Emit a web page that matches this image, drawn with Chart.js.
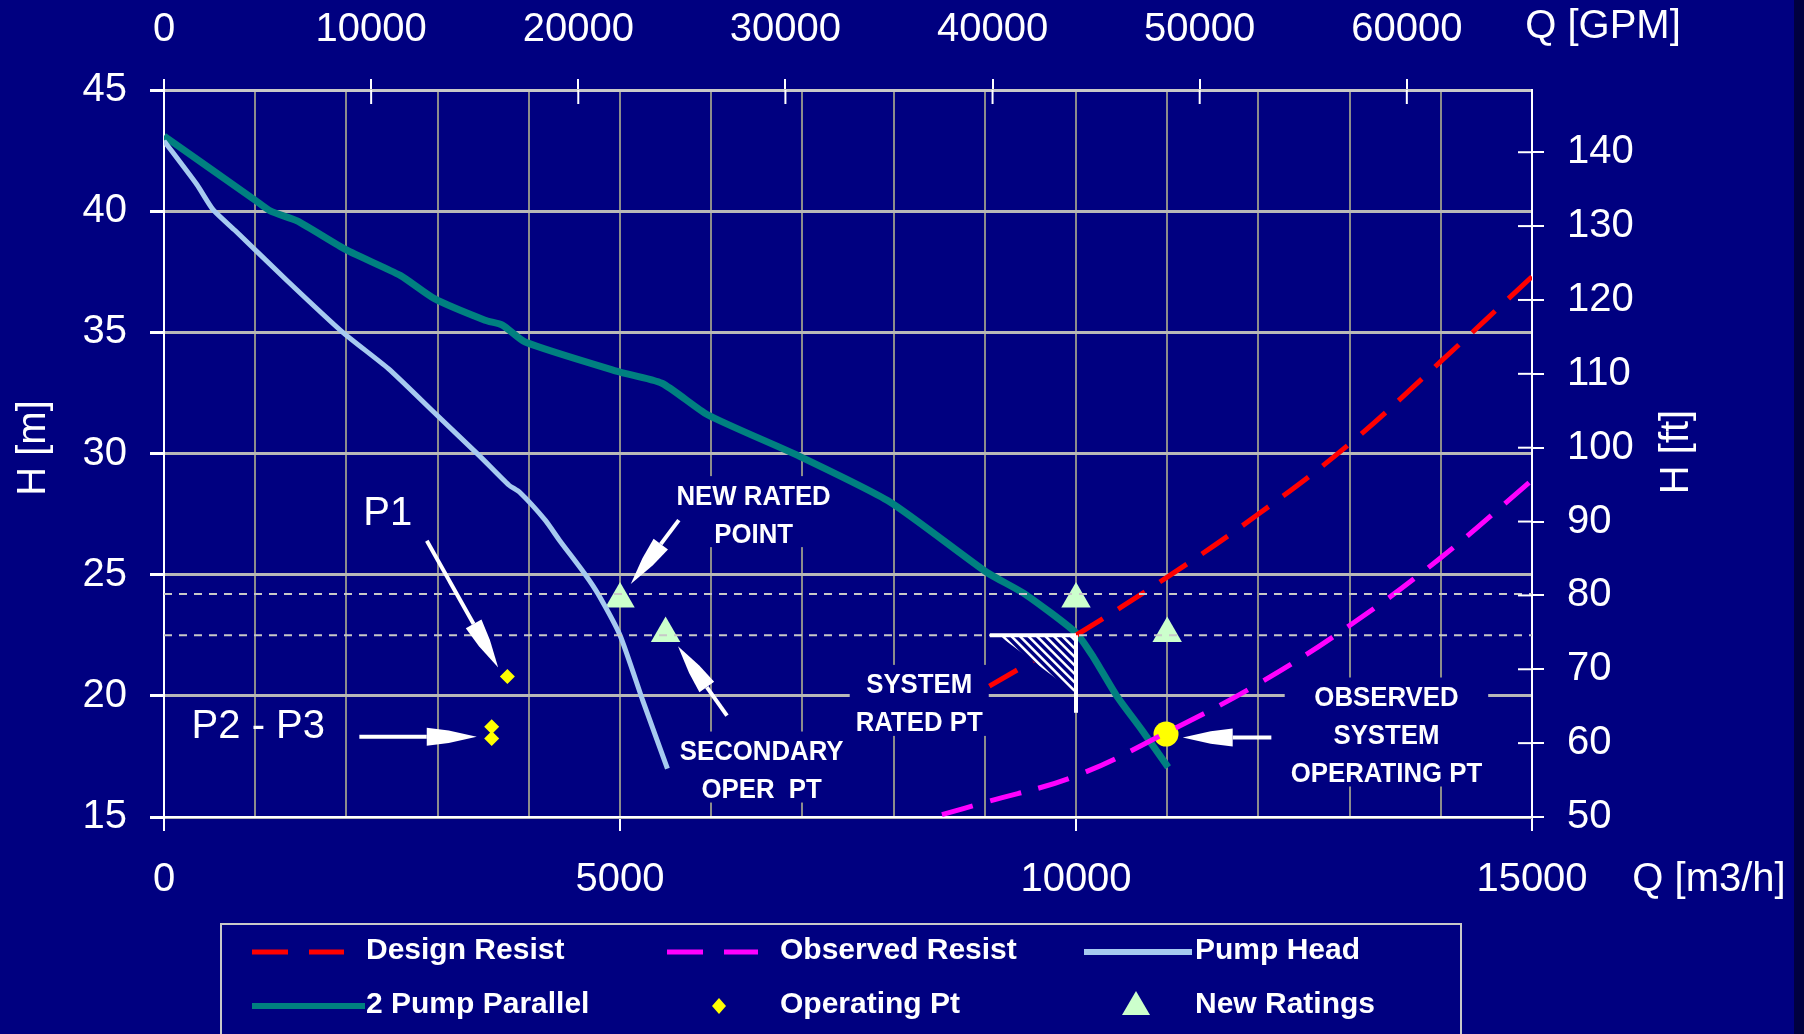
<!DOCTYPE html>
<html>
<head>
<meta charset="utf-8">
<script src="https://cdn.jsdelivr.net/npm/chart.js@4.4.1/dist/chart.umd.min.js"></script>
<style>
  html, body { margin: 0; padding: 0; background: #000040; }
  canvas { display: block; }
</style>
</head>
<body>
<canvas id="pump" width="1804" height="1034"></canvas>
<script>
// flow Q in m3/h, head H in m
const pumpHeadQ = [0, 360, 540, 780, 1345, 1960, 2460, 2960, 3460, 3780, 3900, 4180, 4340, 4620, 4760, 5000, 5250, 5520];
const pumpHeadH = [42.9, 41.1, 40.05, 39.2, 37.15, 35.0, 33.5, 31.7, 29.9, 28.7, 28.4, 27.25, 26.4, 25.0, 24.2, 22.5, 19.8, 17.0];

const parallelQ = [0, 1000, 1170, 1460, 2000, 2590, 2960, 3520, 3710, 3960, 4960, 5460, 5960, 6960, 7960, 9020, 9440, 10000, 10190, 10446, 10720, 11010];
const parallelH = [43.1, 40.45, 40.0, 39.6, 38.4, 37.35, 36.4, 35.5, 35.3, 34.6, 33.4, 32.9, 31.6, 29.9, 28.0, 25.1, 24.2, 22.6, 21.6, 20.0, 18.6, 17.05];

const designQ = [9050, 10000, 11000, 12000, 13000, 14000, 15000];
const designH = [20.4, 22.5, 24.9, 27.5, 30.4, 33.8, 37.3];

const observedQ = [8530, 9000, 10000, 11000, 12000, 13000, 14000, 15000];
const observedH = [15.1, 15.6, 16.7, 18.5, 20.5, 22.9, 25.7, 28.9];

const operQ = [3765, 3593, 3593, 10987];
const operH = [20.8, 18.72, 18.24, 18.42];

const ratingQ = [5000, 5500, 10000, 11000];
const ratingH = [24.0, 22.57, 24.0, 22.57];

const dottedH = [24.2, 22.5];

// tick labels of the secondary axes
const gpmTicks = [0, 10000, 20000, 30000, 40000, 50000, 60000];
const ftTicks = [50, 60, 70, 80, 90, 100, 110, 120, 130, 140];

// unit conversions for the secondary axes
const GPM_PER_M3H = 4.40287;
const FT_PER_M = 3.28084;

// annotation texts (positions in Q / H units)
const noteText = [['NEW RATED', 'POINT'], ['SECONDARY', 'OPER  PT'], ['SYSTEM', 'RATED PT'], ['OBSERVED', 'SYSTEM', 'OPERATING PT']];
const noteQ = [6465, 6553, 8281, 13404];
const noteH = [28.2, 17.66, 20.41, 19.89];

const arrowFrom = [[2882, 26.4], [2142, 18.31], [5645, 27.25], [6173, 19.18], [12142, 18.28]];
const arrowTo = [[3664, 21.17], [3429, 18.31], [5118, 24.61], [5636, 22.05], [11170, 18.28]];

const pts = (qs, hs) => qs.map((q, i) => ({ x: q, y: hs[i] }));

const FONT = '"Liberation Sans", Arial, sans-serif';
Chart.defaults.font.family = FONT;
Chart.defaults.color = '#ffffff';

function drawText(c, text, x, y, font, sx, align) {
  c.save();
  c.translate(x, y);
  c.scale(sx, 1);
  c.font = font;
  c.fillStyle = '#ffffff';
  c.textAlign = align || 'center';
  c.textBaseline = 'middle';
  c.fillText(text, 0, 0);
  c.restore();
}

function arrow(c, x1, y1, x2, y2) {
  const a = Math.atan2(y2 - y1, x2 - x1);
  const L = 50, w = 9;
  const bx = x2 - Math.cos(a) * L, by = y2 - Math.sin(a) * L;
  c.save();
  c.strokeStyle = '#ffffff';
  c.fillStyle = '#ffffff';
  c.lineWidth = 4;
  c.beginPath(); c.moveTo(x1, y1); c.lineTo(bx, by); c.stroke();
  c.beginPath();
  c.moveTo(bx - Math.sin(a) * w, by + Math.cos(a) * w);
  c.lineTo(bx + Math.cos(a) * 22 - Math.sin(a) * w * 0.7, by + Math.sin(a) * 22 + Math.cos(a) * w * 0.7);
  c.lineTo(x2, y2);
  c.lineTo(bx + Math.cos(a) * 22 + Math.sin(a) * w * 0.7, by + Math.sin(a) * 22 - Math.cos(a) * w * 0.7);
  c.lineTo(bx + Math.sin(a) * w, by - Math.cos(a) * w);
  c.closePath(); c.fill();
  c.restore();
}

const NOTE_FONT = 'bold 27px ' + FONT;
const NOTE_SX = 0.955;
const NOTE_GAP = 38;

const overlay = {
  id: 'overlay',
  beforeDraw(chart) {
    const c = chart.ctx;
    c.save();
    c.fillStyle = '#000080';
    c.fillRect(0, 0, 1794, chart.height);
    c.fillStyle = '#000040';
    c.fillRect(1794, 0, chart.width - 1794, chart.height);
    c.restore();
  },
  beforeDatasetsDraw(chart) {
    // label backgrounds hide the grid behind the notes
    const c = chart.ctx, sx = chart.scales.x, sy = chart.scales.y;
    c.save();
    c.font = NOTE_FONT;
    noteText.forEach((lines, i) => {
      const cx = sx.getPixelForValue(noteQ[i]);
      const cy = sy.getPixelForValue(noteH[i]);
      const w = Math.max(...lines.map(t => c.measureText(t).width)) * NOTE_SX + 12;
      const top = cy - 21, bottom = cy + (lines.length - 1) * NOTE_GAP + 12;
      c.fillStyle = '#000080';
      c.fillRect(cx - w / 2, top, w, bottom - top);
    });
    c.restore();
  },
  afterDatasetsDraw(chart) {
    const c = chart.ctx, sx = chart.scales.x, sy = chart.scales.y;
    const px = q => sx.getPixelForValue(q), py = h => sy.getPixelForValue(h);

    // hatched triangle at the system rated point
    c.save();
    const hx0 = px(9150), hx1 = px(10000), hy0 = py(dottedH[1]), hy1 = py(20.1);
    c.beginPath(); c.moveTo(hx0, hy0); c.lineTo(hx1, hy0); c.lineTo(hx1, hy1); c.closePath();
    c.fillStyle = '#000080';
    c.fill();
    c.clip();
    c.strokeStyle = '#ffffff'; c.lineWidth = 2.5;
    for (let k = -90; k < 120; k += 8.5) {
      c.beginPath(); c.moveTo(hx0 + k, hy0); c.lineTo(hx0 + k + 80, hy0 + 80); c.stroke();
    }
    c.restore();
    c.save();
    c.strokeStyle = '#ffffff'; c.lineWidth = 4;
    c.beginPath(); c.moveTo(px(9055), hy0); c.lineTo(hx1, hy0); c.stroke();
    c.beginPath(); c.moveTo(hx1, hy0); c.lineTo(hx1, py(19.3)); c.stroke();
    c.restore();

    // notes
    noteText.forEach((lines, i) => {
      lines.forEach((t, j) => drawText(c, t, px(noteQ[i]), py(noteH[i]) + j * NOTE_GAP, NOTE_FONT, NOTE_SX));
    });
    drawText(c, 'P1', px(2453), py(27.49), '40px ' + FONT, 1);
    drawText(c, 'P2 - P3', px(1034), py(18.72), '40px ' + FONT, 1);

    arrowFrom.forEach((f, i) => arrow(c, px(f[0]), py(f[1]), px(arrowTo[i][0]), py(arrowTo[i][1])));

    // inner halves of the crossing ticks on top and right axes
    const tx = chart.scales.x2, ty = chart.scales.y2, area = chart.chartArea;
    c.save();
    c.strokeStyle = '#ffffff'; c.lineWidth = 2;
    tx.ticks.forEach(t => {
      const x = tx.getPixelForValue(t.value);
      c.beginPath(); c.moveTo(x, area.top); c.lineTo(x, area.top + 14); c.stroke();
    });
    ty.ticks.forEach(t => {
      const y = ty.getPixelForValue(t.value);
      c.beginPath(); c.moveTo(area.right, y); c.lineTo(area.right - 14, y); c.stroke();
    });
    c.restore();

    // axis titles
    const titleFont = '40px ' + FONT;
    c.save(); c.translate(34, 448); c.rotate(-Math.PI / 2);
    drawText(c, 'H [m]', 0, 0, titleFont, 1); c.restore();
    c.save(); c.translate(1677, 452); c.rotate(-Math.PI / 2);
    drawText(c, 'H [ft]', 0, 0, titleFont, 1); c.restore();
    drawText(c, 'Q [m3/h]', 1709, 880, titleFont, 1);
    drawText(c, 'Q [GPM]', 1603, 27, titleFont, 1);

    // legend box
    c.save();
    c.strokeStyle = '#c8c8c8'; c.lineWidth = 2;
    c.strokeRect(221, 924, 1240, 140);
    c.lineCap = 'butt';
    const seg = (x0, x1, y, col, lw, dash) => {
      c.strokeStyle = col; c.lineWidth = lw; c.setLineDash(dash || []);
      c.beginPath(); c.moveTo(x0, y); c.lineTo(x1, y); c.stroke();
      c.setLineDash([]);
    };
    seg(252, 344, 952, '#ff0000', 5, [36, 21]);
    seg(667, 758, 952, '#ff00ff', 5, [36, 21]);
    seg(1084, 1192, 952, '#a6caf0', 6);
    seg(252, 365, 1006, '#008080', 6);
    c.fillStyle = '#ffff00';
    c.beginPath(); c.moveTo(719, 998); c.lineTo(726, 1006); c.lineTo(719, 1014); c.lineTo(712, 1006); c.closePath(); c.fill();
    c.fillStyle = '#ccffcc';
    c.beginPath(); c.moveTo(1136, 991); c.lineTo(1150, 1015); c.lineTo(1122, 1015); c.closePath(); c.fill();
    c.restore();
    const lf = 'bold 30px ' + FONT;
    drawText(c, 'Design Resist', 366, 951, lf, 1, 'left');
    drawText(c, 'Observed Resist', 780, 951, lf, 1, 'left');
    drawText(c, 'Pump Head', 1195, 951, lf, 1, 'left');
    drawText(c, '2 Pump Parallel', 366, 1005, lf, 1, 'left');
    drawText(c, 'Operating Pt', 780, 1005, lf, 1, 'left');
    drawText(c, 'New Ratings', 1195, 1005, lf, 1, 'left');
  }
};

const tickFont = { size: 40, family: FONT };

new Chart(document.getElementById('pump'), {
  type: 'scatter',
  data: {
    datasets: [
      { label: 'dotted1', data: pts([0, 15000], [dottedH[0], dottedH[0]]), showLine: true, borderColor: '#c8c8c8', borderWidth: 2, borderDash: [8, 7], pointRadius: 0 },
      { label: 'dotted2', data: pts([0, 15000], [dottedH[1], dottedH[1]]), showLine: true, borderColor: '#c8c8c8', borderWidth: 2, borderDash: [8, 7], pointRadius: 0 },
      { label: 'Observed Resist', data: pts(observedQ, observedH), showLine: true, borderColor: '#ff00ff', borderWidth: 5, borderDash: [32, 18], tension: 0.4, pointRadius: 0 },
      { label: 'Design Resist', data: pts(designQ, designH), showLine: true, borderColor: '#ff0000', borderWidth: 5, borderDash: [32, 18], tension: 0.4, pointRadius: 0 },
      { label: 'Pump Head', data: pts(pumpHeadQ, pumpHeadH), showLine: true, borderColor: '#a6caf0', borderWidth: 5, tension: 0.2, pointRadius: 0 },
      { label: '2 Pump Parallel', data: pts(parallelQ, parallelH), showLine: true, borderColor: '#008080', borderWidth: 7, tension: 0.2, pointRadius: 0 },
      { label: 'Operating Pt', data: pts(operQ, operH), showLine: false, pointStyle: ['rectRot', 'rectRot', 'rectRot', 'circle'], pointRadius: [7.5, 7.5, 7.5, 12.5], backgroundColor: '#ffff00', borderColor: '#ffff00', borderWidth: 0 },
      { label: 'New Ratings', data: pts(ratingQ, ratingH), showLine: false, pointStyle: 'triangle', pointRadius: 17, backgroundColor: '#ccffcc', borderColor: '#ccffcc', borderWidth: 0 }
    ]
  },
  options: {
    responsive: false,
    devicePixelRatio: 1,
    animation: false,
    layout: { padding: 0 },
    plugins: { legend: { display: false }, tooltip: { enabled: false } },
    scales: {
      x: {
        type: 'linear', position: 'bottom', min: 0, max: 15000,
        afterFit: s => { s.height = 217; },
        ticks: { stepSize: 1000, padding: 25, font: tickFont, color: '#ffffff', maxRotation: 0, autoSkip: false,
          callback: v => (v % 5000 === 0 ? String(v) : '') },
        grid: { color: '#8c8c8c', lineWidth: 2, tickLength: 14,
          tickColor: ctx => (ctx.tick && ctx.tick.value % 5000 === 0 ? '#ffffff' : 'rgba(0,0,0,0)') },
        border: { color: '#ffffff', width: 2 }
      },
      x2: {
        type: 'linear', position: 'top', min: 0, max: 15000 * GPM_PER_M3H,
        afterFit: s => { s.height = 90; },
        afterBuildTicks: s => { s.ticks = gpmTicks.map(v => ({ value: v })); },
        ticks: { padding: 25, font: tickFont, color: '#ffffff', maxRotation: 0, autoSkip: false, callback: v => String(v) },
        grid: { drawOnChartArea: false, tickLength: 11, tickColor: '#ffffff', lineWidth: 2 },
        border: { color: '#c8c8c8', width: 3 }
      },
      y: {
        type: 'linear', position: 'left', min: 15, max: 45,
        afterFit: s => { s.width = 164; },
        ticks: { stepSize: 5, padding: 23, font: tickFont, color: '#ffffff' },
        grid: { color: '#b8b8b8', lineWidth: 3, tickLength: 14, tickColor: '#ffffff' },
        border: { color: '#ffffff', width: 2 }
      },
      y2: {
        type: 'linear', position: 'right', min: 50, max: 50 + 30 * FT_PER_M,
        afterFit: s => { s.width = 272; },
        afterBuildTicks: s => { s.ticks = ftTicks.map(v => ({ value: v })); },
        ticks: { padding: 23, font: tickFont, color: '#ffffff', autoSkip: false, callback: v => String(v) },
        grid: { drawOnChartArea: false, tickLength: 12, tickColor: '#ffffff', lineWidth: 2 },
        border: { color: '#ffffff', width: 2 }
      }
    }
  },
  plugins: [overlay]
});
</script>
</body>
</html>
